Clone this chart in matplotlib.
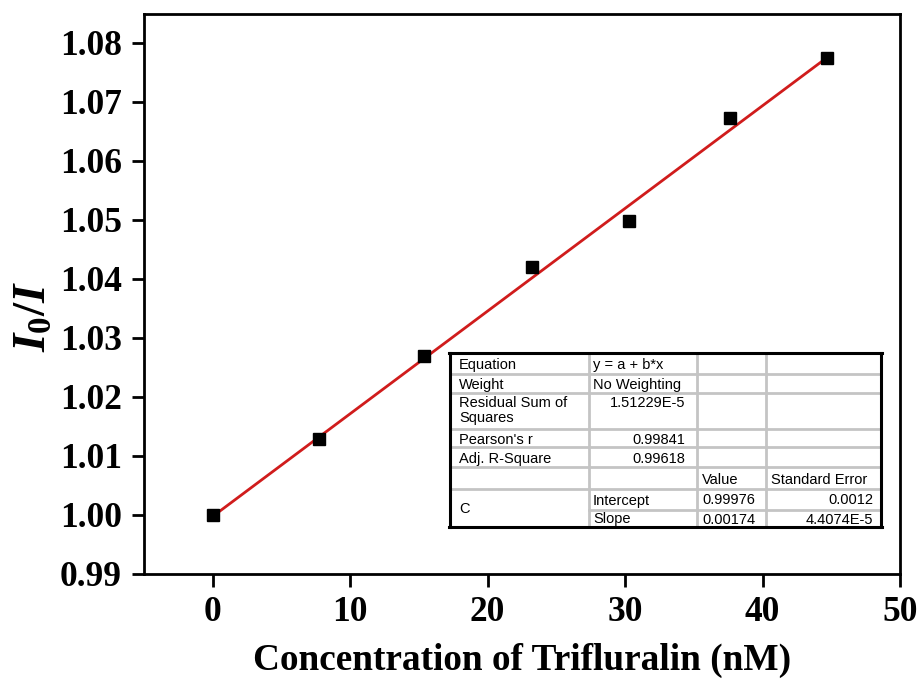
import matplotlib
matplotlib.use('Agg')
import matplotlib.pyplot as plt
from matplotlib.lines import Line2D

# Stern-Volmer style quenching data
conc = [0, 7.7, 15.4, 23.2, 30.3, 37.6, 44.7]
ratio = [1.0000, 1.0128, 1.0270, 1.0420, 1.0499, 1.0673, 1.0775]

# Linear fit results
intercept = 0.99976
slope = 0.00174

x_ticks = [0, 10, 20, 30, 40, 50]
y_ticks = [0.99, 1.00, 1.01, 1.02, 1.03, 1.04, 1.05, 1.06, 1.07, 1.08]

# Fit report rows (label, value)
fit_rows = [
    ('Equation', 'y = a + b*x'),
    ('Weight', 'No Weighting'),
    ('Residual Sum of\nSquares', '1.51229E-5'),
    ("Pearson's r", '0.99841'),
    ('Adj. R-Square', '0.99618'),
]
param_names = ['Intercept', 'Slope']
param_values = ['0.99976', '0.00174']
param_errors = ['0.0012', '4.4074E-5']

plt.rcParams['font.family'] = 'Liberation Serif'
plt.rcParams['mathtext.fontset'] = 'custom'
plt.rcParams['mathtext.it'] = 'Liberation Serif:italic:bold'
plt.rcParams['mathtext.rm'] = 'Liberation Serif:bold'

W, H = 921, 679
fig = plt.figure(figsize=(W / 100, H / 100), dpi=100)
ax = fig.add_axes([144 / W, 1 - 574 / H, (900 - 144) / W, (574 - 14) / H])

# fitted line
fit_x = [conc[0], conc[-1]]
fit_y = [intercept + slope * v for v in fit_x]
ax.plot(fit_x, fit_y, color='#d01c1c', linewidth=2, zorder=2)
ax.plot(conc, ratio, linestyle='none', marker='s', markersize=9,
        color='black', zorder=3)

ax.set_xlim(-5, 50)
ax.set_ylim(0.99, 1.0849)
ax.set_xticks(x_ticks)
ax.set_yticks(y_ticks)
ax.set_yticklabels([f'{v:.2f}' for v in y_ticks])
ax.tick_params(direction='out', length=9, width=2, labelsize=25.5)
ax.tick_params(axis='x', pad=7)
ax.tick_params(axis='y', pad=7)
for lab in ax.get_xticklabels() + ax.get_yticklabels():
    lab.set_fontweight('bold')
for sp in ax.spines.values():
    sp.set_linewidth(2)

ax.set_xlabel('Concentration of Trifluralin (nM)', fontsize=26.8,
              fontweight='bold', labelpad=10)
ax.set_ylabel(r'$I_{0}/I$', fontsize=34)
ax.yaxis.set_label_coords(-0.117, 0.46)

# fit report table, drawn in figure pixels
def px(x, y):
    return x / W, 1 - y / H

cols = [450, 589, 697, 766, 881]
rows = [353, 374, 393, 429, 447, 467, 489, 510, 527]
grid = '#c4c4c4'
tfont = dict(family='Liberation Sans', fontsize=10.5, color='black', zorder=7)

def hline(y, x0, x1, c=grid, lw=2, z=5):
    fig.add_artist(Line2D([px(x0, y)[0], px(x1, y)[0]], [px(x0, y)[1]] * 2,
                          color=c, linewidth=lw, zorder=z))

def vline(x, y0, y1, c=grid, lw=2, z=5):
    fig.add_artist(Line2D([px(x, y0)[0]] * 2, [px(x, y0)[1], px(x, y1)[1]],
                          color=c, linewidth=lw, zorder=z))

fig.add_artist(plt.Rectangle(px(cols[0], rows[-1]), (cols[-1] - cols[0]) / W,
                             (rows[-1] - rows[0]) / H, transform=fig.transFigure,
                             facecolor='white', edgecolor='none', zorder=4))
for y in rows[1:7]:
    hline(y, cols[0], cols[-1])
hline(rows[7], cols[1], cols[-1])
for x in cols[1:-1]:
    vline(x, rows[0], rows[-1])
# outer border
hline(rows[0], cols[0] - 1, cols[-1] + 1, 'black', 2.2, 6)
hline(rows[-1], cols[0] - 1, cols[-1] + 1, 'black', 2.2, 6)
vline(cols[0], rows[0], rows[-1], 'black', 2.2, 6)
vline(cols[-1], rows[0], rows[-1], 'black', 2.2, 6)

for i, (label, val) in enumerate(fit_rows):
    y0, y1 = rows[i], rows[i + 1]
    if '\n' in label:
        ty = y0 + 3
        va = 'top'
    else:
        ty = (y0 + y1) / 2 + 2
        va = 'center'
    fig.text(*px(cols[0] + 9, ty), label, va=va, ha='left',
             linespacing=1.1, **tfont)
    if i < 2:
        fig.text(*px(cols[1] + 4, ty), val, va=va, ha='left', **tfont)
    else:
        fig.text(*px(cols[2] - 12, ty), val, va=va, ha='right', **tfont)

ym = (rows[5] + rows[6]) / 2 + 2
fig.text(*px(cols[2] + 5, ym), 'Value', va='center', ha='left', **tfont)
fig.text(*px(cols[3] + 5, ym), 'Standard Error', va='center', ha='left', **tfont)
fig.text(*px(cols[0] + 9, (rows[6] + rows[8]) / 2 + 1), 'C', va='center',
         ha='left', **tfont)
for k in range(2):
    yc = (rows[6 + k] + rows[7 + k]) / 2 + 1
    fig.text(*px(cols[1] + 4, yc), param_names[k], va='center', ha='left', **tfont)
    fig.text(*px(cols[2] + 5, yc), param_values[k], va='center', ha='left', **tfont)
    fig.text(*px(cols[4] - 8, yc), param_errors[k], va='center', ha='right', **tfont)

fig.savefig('out.png', dpi=100)
